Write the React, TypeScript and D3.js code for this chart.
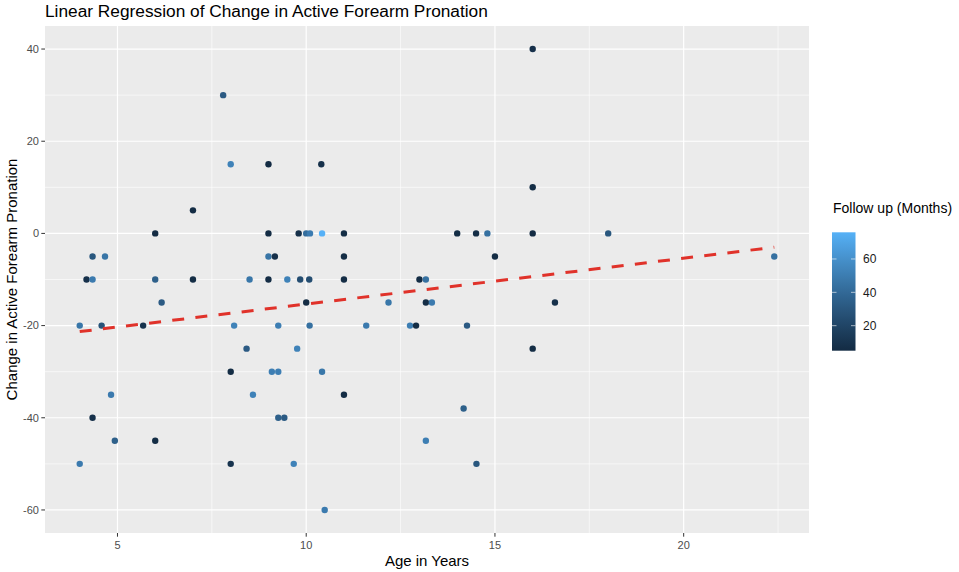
import * as d3 from "d3"

// age (years), change in pronation (deg), follow up (months)
const ages = [
  7.8, 8.0, 9.0, 10.4, 7.0, 6.0, 9.0, 9.8, 10.0, 10.1, 10.42, 11.0, 14.0, 14.5, 14.8, 16.0, 18.0, 16.0, 16.0,
  4.34, 4.67, 9.0, 9.17, 11.0, 15.0, 22.4,
  4.18, 4.34, 6.0, 7.0, 8.5, 9.0, 9.5, 9.84, 10.08, 11.0, 13.0, 13.17,
  6.17, 10.0, 12.18, 13.17, 13.33, 16.59,
  4.0, 4.58, 5.68, 8.09, 9.26, 10.09, 11.59, 12.75, 12.91, 14.26,
  8.42, 9.76, 16.0,
  8.0, 9.09, 9.26, 10.42,
  4.83, 8.59, 11.0,
  14.17,
  4.34, 9.26, 9.42,
  4.93, 6.0, 13.17,
  4.0, 8.0, 9.67, 14.51,
  10.49,
]
const changes = [
  30, 15, 15, 15, 5, 0, 0, 0, 0, 0, 0, 0, 0, 0, 0, 0, 0, 40, 10,
  -5, -5, -5, -5, -5, -5, -5,
  -10, -10, -10, -10, -10, -10, -10, -10, -10, -10, -10, -10,
  -15, -15, -15, -15, -15, -15,
  -20, -20, -20, -20, -20, -20, -20, -20, -20, -20,
  -25, -25, -25,
  -30, -30, -30, -30,
  -35, -35, -35,
  -38,
  -40, -40, -40,
  -45, -45, -45,
  -50, -50, -50, -50,
  -60,
]
const followUp = [
  32, 53, 5, 8, 6, 5, 6, 8, 42, 50, 76, 6, 6, 7, 44, 5, 30, 8, 6,
  30, 46, 46, 8, 6, 6, 44,
  8, 49, 35, 6, 47, 6, 53, 25, 25, 6, 6, 44,
  32, 6, 47, 6, 49, 8,
  47, 28, 10, 53, 51, 44, 49, 51, 6, 32,
  32, 53, 6,
  6, 51, 51, 47,
  49, 53, 6,
  35,
  8, 35, 32,
  35, 6, 51,
  49, 10, 53, 30,
  49,
]

const fitX = [4, 22.4]
const fitY = [-21.3, -3.0]

const xTicks = [5, 10, 15, 20]
const xMinor = [7.5, 12.5, 17.5, 22.5]
const yTicks = [-60, -40, -20, 0, 20, 40]
const yMinor = [-50, -30, -10, 10, 30]
const legendTicks = [20, 40, 60]

const title = "Linear Regression of Change in Active Forearm Pronation"
const xTitle = "Age in Years"
const yTitle = "Change in Active Forearm Pronation"
const legendTitle = "Follow up (Months)"

export default function App() {
  const width = 959
  const height = 572
  const panel = { left: 45, right: 809, top: 26, bottom: 533 }
  const font = "'Liberation Sans', Arial, Helvetica, sans-serif"

  const xExt = d3.extent(ages) as [number, number]
  const yExt = d3.extent(changes) as [number, number]
  const xPad = (xExt[1] - xExt[0]) * 0.05
  const yPad = (yExt[1] - yExt[0]) * 0.05

  const x = d3.scaleLinear().domain([xExt[0] - xPad, xExt[1] + xPad]).range([panel.left, panel.right])
  const y = d3.scaleLinear().domain([yExt[0] - yPad, yExt[1] + yPad]).range([panel.bottom, panel.top])

  const fExt = d3.extent(followUp) as [number, number]
  const color = d3
    .scaleLinear<string>()
    .domain(fExt)
    .range(["#132B43", "#56B1F7"])
    .interpolate(d3.interpolateLab)

  const bar = { x: 832, w: 23.5, top: 232.3, bottom: 350.7 }
  const ly = d3.scaleLinear().domain(fExt).range([bar.bottom, bar.top])
  const gradStops = d3.range(0, 1.0001, 0.05)

  const line = d3
    .line<number>()
    .x((d) => x(d))
    .y((_, i) => y(fitY[i]))

  return (
    <svg width={width} height={height} style={{ position: "absolute", left: 0, top: 0, background: "#fff" }}>
      <defs>
        <linearGradient id="fu" x1="0" y1="1" x2="0" y2="0">
          {gradStops.map((t) => (
            <stop key={t} offset={t} stopColor={color(fExt[0] + t * (fExt[1] - fExt[0]))} />
          ))}
        </linearGradient>
      </defs>

      <rect x={panel.left} y={panel.top} width={panel.right - panel.left} height={panel.bottom - panel.top} fill="#EBEBEB" />

      {xMinor.map((v) => (
        <line key={"xm" + v} x1={x(v)} x2={x(v)} y1={panel.top} y2={panel.bottom} stroke="#fff" strokeWidth={0.6} />
      ))}
      {yMinor.map((v) => (
        <line key={"ym" + v} x1={panel.left} x2={panel.right} y1={y(v)} y2={y(v)} stroke="#fff" strokeWidth={0.6} />
      ))}
      {xTicks.map((v) => (
        <line key={"xg" + v} x1={x(v)} x2={x(v)} y1={panel.top} y2={panel.bottom} stroke="#fff" strokeWidth={1.2} />
      ))}
      {yTicks.map((v) => (
        <line key={"yg" + v} x1={panel.left} x2={panel.right} y1={y(v)} y2={y(v)} stroke="#fff" strokeWidth={1.2} />
      ))}

      {ages.map((a, i) => (
        <circle key={"p" + i} cx={x(a)} cy={y(changes[i])} r={3.2} fill={color(followUp[i])} />
      ))}

      <path d={line(fitX) || ""} fill="none" stroke="#E0322A" strokeWidth={3} strokeDasharray="12,11.3" />

      {/* axes */}
      {yTicks.map((v) => (
        <g key={"yt" + v}>
          <line x1={panel.left - 3.7} x2={panel.left} y1={y(v)} y2={y(v)} stroke="#333" strokeWidth={1} />
          <text x={panel.left - 6} y={y(v)} dy="0.35em" textAnchor="end" fontSize={11} fill="#4D4D4D" fontFamily={font}>
            {v}
          </text>
        </g>
      ))}
      {xTicks.map((v) => (
        <g key={"xt" + v}>
          <line x1={x(v)} x2={x(v)} y1={panel.bottom} y2={panel.bottom + 3.7} stroke="#333" strokeWidth={1} />
          <text x={x(v)} y={549} textAnchor="middle" fontSize={11} fill="#4D4D4D" fontFamily={font}>
            {v}
          </text>
        </g>
      ))}

      <text x={panel.left} y={17} fontSize={17.3} fill="#000" fontFamily={font}>
        {title}
      </text>
      <text x={(panel.left + panel.right) / 2} y={566} textAnchor="middle" fontSize={15} fill="#000" fontFamily={font}>
        {xTitle}
      </text>
      <text
        transform={`translate(17,${(panel.top + panel.bottom) / 2}) rotate(-90)`}
        textAnchor="middle"
        fontSize={15}
        fill="#000"
        fontFamily={font}
      >
        {yTitle}
      </text>

      {/* legend */}
      <text x={833} y={213} fontSize={14} fill="#000" fontFamily={font}>
        {legendTitle}
      </text>
      <rect x={bar.x} y={bar.top} width={bar.w} height={bar.bottom - bar.top} fill="url(#fu)" />
      {legendTicks.map((v) => (
        <g key={"lt" + v}>
          <line x1={bar.x} x2={bar.x + 4.5} y1={ly(v)} y2={ly(v)} stroke="#fff" strokeOpacity={0.6} strokeWidth={1} />
          <line x1={bar.x + bar.w - 4.5} x2={bar.x + bar.w} y1={ly(v)} y2={ly(v)} stroke="#fff" strokeOpacity={0.6} strokeWidth={1} />
          <text x={863} y={ly(v)} dy="0.35em" fontSize={12} fill="#1A1A1A" fontFamily={font}>
            {v}
          </text>
        </g>
      ))}
    </svg>
  )
}
